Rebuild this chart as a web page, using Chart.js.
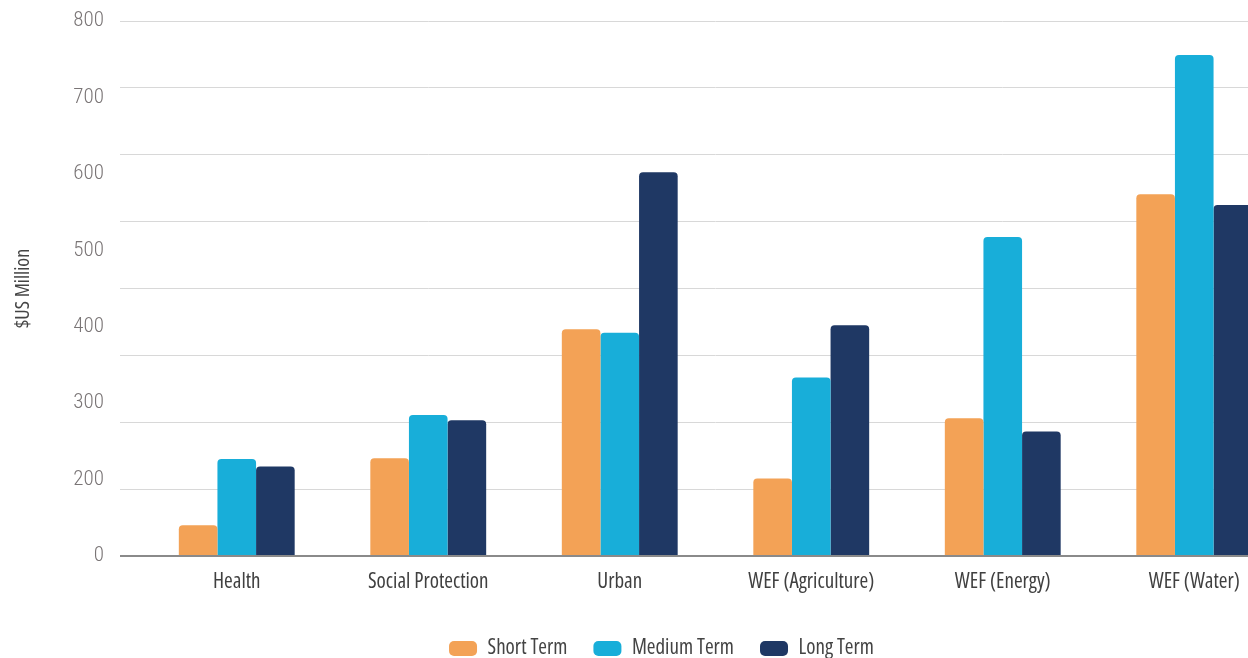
<!DOCTYPE html>
<html>
<head>
<meta charset="utf-8">
<script src="https://cdn.jsdelivr.net/npm/chart.js@4.4.1/dist/chart.umd.min.js"></script>
<style>
  html, body { margin: 0; padding: 0; background: #fff; overflow: hidden; }
  #wrap { position: absolute; left: 0; top: 0; width: 1323px; height: 669px; }
</style>
</head>
<body>
<div id="wrap"><canvas id="chart" width="1323" height="669"></canvas></div>
<script>
// categories and series
const categories = ['Health', 'Social Protection', 'Urban', 'WEF (Agriculture)', 'WEF (Energy)', 'WEF (Water)'];
const shortTerm = [46, 146, 339, 116, 206, 541];
const mediumTerm = [145, 211, 334, 267, 477, 749];
const longTerm = [134, 203, 574, 345, 186, 525];
// the printed axis labels (evenly spaced, as in the original)
const yLabels = ['0', '200', '300', '400', '500', '600', '700', '800'];

// Open Sans has a width axis, "condensed" gets close to the narrow face of the original
const FONT = "'Open Sans', sans-serif";
const STRETCH = 'condensed';

new Chart(document.getElementById('chart').getContext('2d'), {
    type: 'bar',
    data: {
        labels: categories,
        datasets: [
            { label: 'Short Term', data: shortTerm, backgroundColor: '#f3a256' },
            { label: 'Medium Term', data: mediumTerm, backgroundColor: '#18aed9' },
            { label: 'Long Term', data: longTerm, backgroundColor: '#1f3864' }
        ]
    },
    options: {
        responsive: false,
        animation: false,
        layout: { padding: { top: 21, left: 0, right: 0, bottom: 0 } },
        datasets: {
            bar: {
                categoryPercentage: 0.605,
                barPercentage: 1.0,
                borderWidth: 0,
                borderSkipped: 'bottom',
                borderRadius: { topLeft: 4, topRight: 4, bottomLeft: 0, bottomRight: 0 }
            }
        },
        plugins: {
            legend: {
                position: 'bottom',
                labels: {
                    font: { family: FONT, size: 21, weight: STRETCH },
                    color: '#444',
                    boxWidth: 28,
                    boxHeight: 15,
                    useBorderRadius: true,
                    borderRadius: 5,
                    padding: 26
                }
            },
            tooltip: { enabled: false }
        },
        scales: {
            x: {
                grid: { display: false, drawTicks: false },
                border: { display: false },
                ticks: { font: { family: FONT, size: 21, weight: STRETCH }, color: '#404040', padding: 13 },
                afterFit: function(axis) { axis.height = 56; }
            },
            y: {
                position: 'left',
                weight: 0,
                min: 0,
                max: 800,
                ticks: { stepSize: 100, display: false },
                border: { display: false },
                grid: {
                    drawTicks: true,
                    tickLength: 21,
                    color: function(ctx) { return ctx.tick && ctx.tick.value === 0 ? '#8a8a8a' : '#d8d8d8'; },
                    lineWidth: function(ctx) { return ctx.tick && ctx.tick.value === 0 ? 2 : 1; }
                },
                afterFit: function(axis) { axis.width = 35; }
            },
            y2: {
                position: 'left',
                weight: 1,
                min: 0,
                max: yLabels.length - 1,
                grid: { display: false, drawTicks: false },
                border: { display: false },
                ticks: {
                    stepSize: 1,
                    padding: 2,
                    font: { family: 'Roboto, sans-serif', size: 21, weight: 'condensed 300' },
                    color: '#7a7576',
                    callback: function(v) { return yLabels[v]; }
                },
                title: {
                    display: true,
                    text: '$US Million',
                    font: { family: FONT, size: 20, weight: STRETCH },
                    color: '#444',
                    padding: { top: 11, bottom: 0 }
                },
                afterFit: function(axis) { axis.width = 106; }
            },
            yr: {
                position: 'right',
                display: true,
                grid: { display: false, drawTicks: false },
                border: { display: false },
                ticks: { display: false },
                afterFit: function(axis) { axis.width = 33; }
            }
        }
    }
});
</script>
</body>
</html>
